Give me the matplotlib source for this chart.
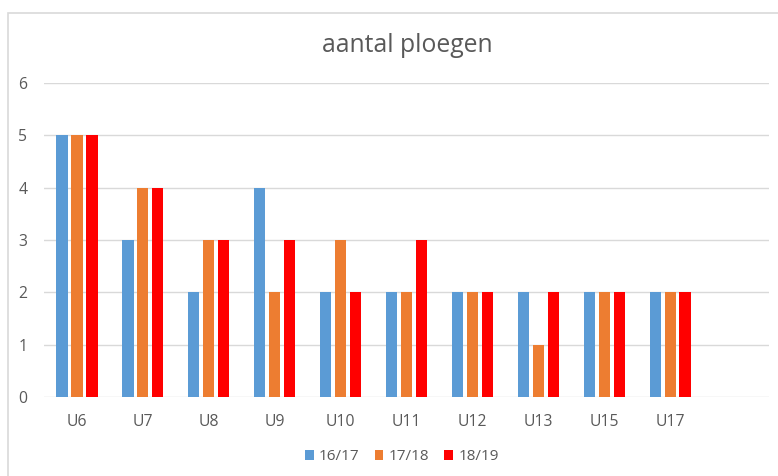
import matplotlib
matplotlib.use('Agg')
import matplotlib.pyplot as plt
from matplotlib.patches import Rectangle
import numpy as np

# data
categories = ['U6', 'U7', 'U8', 'U9', 'U10', 'U11', 'U12', 'U13', 'U15', 'U17', '']
series_names = ['16/17', '17/18', '18/19']
s1617 = [5, 3, 2, 4, 2, 2, 2, 2, 2, 2]
s1718 = [5, 4, 3, 2, 3, 2, 2, 1, 2, 2]
s1819 = [5, 4, 3, 3, 2, 3, 2, 2, 2, 2]
colors = ['#5B9BD5', '#ED7D31', '#FF0000']
txt = '#595959'

plt.rcParams['font.family'] = ['Open Sans', 'DejaVu Sans']

fig = plt.figure(figsize=(7.78, 4.76), dpi=100)
# chart frame (light gray border like the excel chart area)
fig.patches.append(Rectangle((8 / 778, -0.05), 1.1, 0.05 + 1 - 13 / 476,
                             transform=fig.transFigure, fill=False,
                             edgecolor='#D9D9D9', linewidth=1.2))

ax = fig.add_axes([44 / 778, 1 - 397 / 476, (769 - 44) / 778, (397 - 83) / 476])

x = np.arange(len(s1617))
pitch = 0.227
w = 0.17
for i, (vals, name) in enumerate(zip([s1617, s1718, s1819], series_names)):
    ax.bar(x + (i - 1) * pitch, vals, width=w, color=colors[i], label=name, zorder=3)

ax.set_xlim(-0.5, len(categories) - 0.5)
ax.set_ylim(0, 6)
ax.set_yticks(range(0, 7))
ax.set_xticks(np.arange(len(categories)))
ax.set_xticklabels(categories)
ax.grid(axis='y', color='#D9D9D9', linewidth=1, zorder=0)
for sp in ax.spines.values():
    sp.set_visible(False)
ax.tick_params(axis='both', length=0, colors=txt, labelsize=11.3)
ax.tick_params(axis='y', pad=12)
ax.tick_params(axis='x', pad=12)

fig.text(407 / 778, 1 - 45 / 476, 'aantal ploegen', ha='center', va='center',
         fontsize=17.8, color=txt)

leg = fig.legend(loc='center', bbox_to_anchor=(402 / 778, 1 - 457 / 476), ncol=3,
                 frameon=False, fontsize=11, handlelength=0.55, handleheight=0.55,
                 handletextpad=0.35, columnspacing=1.0)
for t in leg.get_texts():
    t.set_color(txt)

fig.savefig('out.png', dpi=100)
